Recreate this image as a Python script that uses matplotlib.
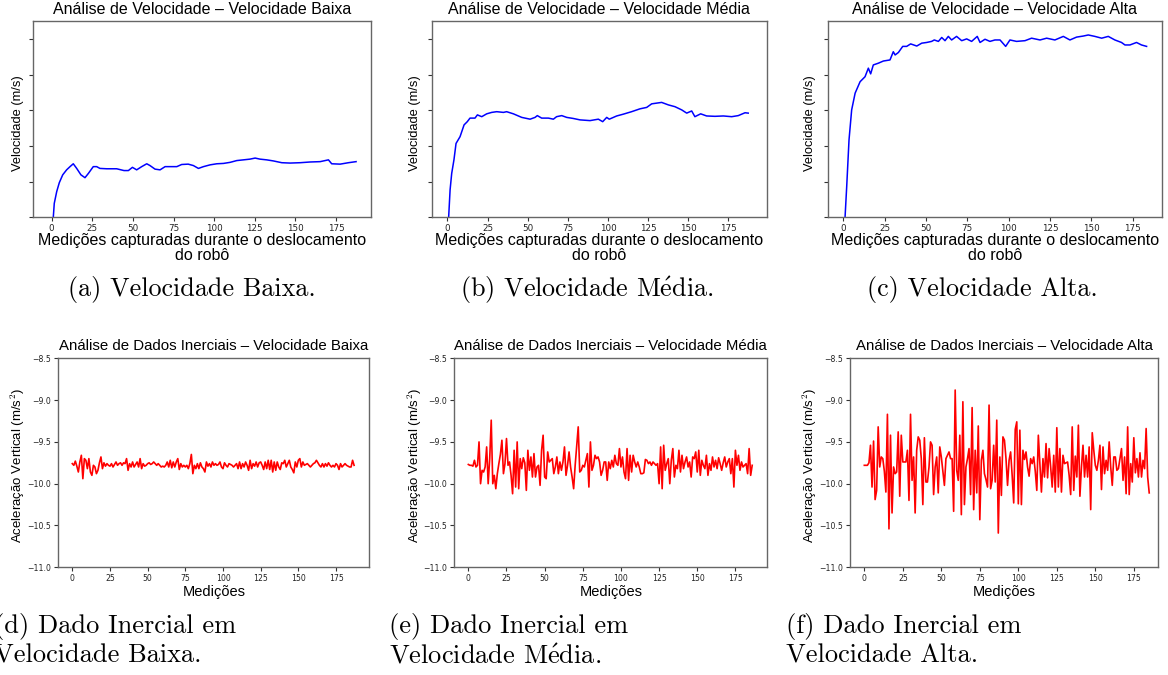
import matplotlib
matplotlib.use("Agg")
import matplotlib.pyplot as plt

plt.rcParams['mathtext.fontset'] = 'cm'
plt.rcParams['axes.unicode_minus'] = True

# --- velocity series (top row) ---
vel_low_x = [1, 1.6, 3.1, 4.7, 6.8, 9.2, 11.3, 13.3, 15.4, 18, 20.5, 22.6, 25.6, 27.7, 29.7,
             33.9, 40, 44.5, 47.2, 49.7, 52.3, 55.4, 58.5, 60.5, 63.6, 66.7, 69.8, 72.8, 77,
             80, 84, 87.2, 90.3, 93.4, 97.5, 101.6, 105.7, 109.8, 113.9, 118, 122, 125.2,
             128.2, 132.3, 136.4, 141.6, 146.7, 152.9, 159, 165.2, 170.3, 172.3, 177.5, 182.6, 187.3]
vel_low_y = [0, 0.039, 0.072, 0.097, 0.119, 0.133, 0.142, 0.150, 0.137, 0.119, 0.111, 0.123,
             0.142, 0.142, 0.137, 0.136, 0.136, 0.131, 0.131, 0.140, 0.133, 0.142, 0.150, 0.145,
             0.135, 0.133, 0.142, 0.142, 0.142, 0.148, 0.149, 0.145, 0.137, 0.142, 0.147, 0.150,
             0.151, 0.154, 0.159, 0.161, 0.163, 0.166, 0.163, 0.161, 0.158, 0.153, 0.152, 0.153,
             0.155, 0.156, 0.161, 0.150, 0.149, 0.153, 0.156]

vel_mid_x = [0.8, 1.7, 2.7, 4.1, 5.4, 7.9, 10.4, 12.4, 14.1, 17.2, 18.7, 21.4, 24.5, 27.6, 30.7,
             34.9, 36.9, 41.1, 46.3, 51.5, 54.6, 56, 58.7, 62.9, 66, 68, 71.2, 74.3, 78.4, 82.6,
             88.8, 94, 96.7, 99.2, 100.8, 105.4, 109.5, 114.7, 119.9, 124.1, 127.2, 130.3,
             133.4, 137.6, 141.7, 145.9, 149, 152.1, 154.1, 157.7, 161.4, 166.6, 171.8, 177,
             181.1, 185.3, 187.3]
vel_mid_y = [0, 0.077, 0.123, 0.161, 0.207, 0.226, 0.259, 0.268, 0.278, 0.278, 0.287, 0.282,
             0.290, 0.294, 0.296, 0.294, 0.296, 0.290, 0.280, 0.275, 0.280, 0.285, 0.278, 0.278,
             0.275, 0.282, 0.285, 0.280, 0.277, 0.273, 0.271, 0.275, 0.268, 0.280, 0.275, 0.284,
             0.289, 0.296, 0.304, 0.308, 0.318, 0.320, 0.322, 0.315, 0.310, 0.301, 0.292, 0.298,
             0.282, 0.290, 0.284, 0.283, 0.284, 0.282, 0.285, 0.293, 0.292]

vel_high_x = [1, 2, 3.4, 5, 7.1, 10.1, 13.1, 15.1, 16.5, 18.1, 21.2, 24.2, 28.2, 30.2, 31.3,
              33.3, 35.9, 38.3, 40.7, 44.4, 47.4, 50.4, 53.4, 55, 57.5, 59.5, 61.5, 63.5, 65.5,
              68.5, 71.6, 74.6, 77.6, 81, 82.7, 85.7, 88.7, 91.7, 94.8, 98.2, 100.8, 104.8,
              109.9, 113.9, 119, 123, 128, 133.1, 137.1, 141.1, 145.2, 148.2, 152.2, 156.3,
              160.3, 164.3, 168.3, 170.4, 173.4, 177.4, 180.4, 183.5]
vel_high_y = [0, 0.086, 0.217, 0.301, 0.348, 0.380, 0.394, 0.418, 0.402, 0.427, 0.432, 0.438,
              0.441, 0.464, 0.455, 0.462, 0.479, 0.479, 0.486, 0.480, 0.488, 0.490, 0.493, 0.497,
              0.493, 0.504, 0.495, 0.507, 0.497, 0.507, 0.495, 0.500, 0.493, 0.507, 0.490, 0.499,
              0.493, 0.497, 0.497, 0.479, 0.497, 0.493, 0.495, 0.502, 0.497, 0.502, 0.497, 0.507,
              0.497, 0.505, 0.508, 0.511, 0.507, 0.502, 0.507, 0.497, 0.490, 0.483, 0.483, 0.490,
              0.483, 0.479]

# --- vertical acceleration series (bottom row) ---
acc_low = [-9.76, -9.78, -9.73, -9.79, -9.86, -9.74, -9.66, -9.94, -9.70, -9.72, -9.82, -9.70,
           -9.86, -9.90, -9.78, -9.80, -9.88, -9.84, -9.75, -9.68, -9.82, -9.75, -9.79, -9.76,
           -9.78, -9.79, -9.76, -9.80, -9.77, -9.74, -9.78, -9.76, -9.75, -9.78, -9.75, -9.76,
           -9.70, -9.84, -9.76, -9.80, -9.74, -9.80, -9.77, -9.74, -9.80, -9.70, -9.82, -9.76,
           -9.79, -9.78, -9.76, -9.75, -9.77, -9.76, -9.74, -9.76, -9.78, -9.76, -9.78, -9.80,
           -9.79, -9.80, -9.78, -9.74, -9.80, -9.72, -9.81, -9.74, -9.80, -9.74, -9.70, -9.83,
           -9.76, -9.80, -9.78, -9.80, -9.78, -9.82, -9.76, -9.65, -9.88, -9.78, -9.82, -9.76,
           -9.82, -9.75, -9.80, -9.82, -9.86, -9.74, -9.79, -9.76, -9.80, -9.74, -9.78, -9.76,
           -9.78, -9.77, -9.74, -9.80, -9.82, -9.75, -9.78, -9.80, -9.76, -9.77, -9.78, -9.80,
           -9.78, -9.76, -9.82, -9.74, -9.82, -9.76, -9.80, -9.74, -9.78, -9.84, -9.72, -9.82,
           -9.76, -9.79, -9.74, -9.80, -9.75, -9.74, -9.78, -9.83, -9.74, -9.82, -9.72, -9.83,
           -9.72, -9.86, -9.74, -9.84, -9.74, -9.80, -9.83, -9.75, -9.76, -9.72, -9.80, -9.76,
           -9.72, -9.80, -9.83, -9.87, -9.74, -9.80, -9.72, -9.70, -9.80, -9.74, -9.78, -9.77,
           -9.76, -9.78, -9.80, -9.78, -9.76, -9.75, -9.72, -9.75, -9.78, -9.80, -9.76, -9.80,
           -9.76, -9.79, -9.75, -9.78, -9.80, -9.78, -9.80, -9.76, -9.78, -9.83, -9.76, -9.80,
           -9.78, -9.76, -9.78, -9.79, -9.80, -9.80, -9.72, -9.78]

acc_mid = [-9.77, -9.78, -9.78, -9.79, -9.72, -9.80, -9.78, -9.50, -10.00, -9.84, -9.86, -9.80,
           -9.56, -10.00, -9.70, -9.24, -10.00, -9.90, -10.06, -9.88, -9.76, -9.65, -9.48, -9.88,
           -9.76, -9.46, -9.78, -9.74, -9.90, -10.12, -9.60, -10.04, -9.50, -10.06, -9.70, -9.82,
           -9.69, -9.75, -10.08, -9.60, -9.84, -9.68, -9.92, -9.64, -9.92, -9.80, -9.78, -10.02,
           -9.60, -9.42, -9.92, -9.94, -9.62, -9.74, -9.72, -9.70, -9.88, -9.80, -9.68, -9.88,
           -9.74, -9.84, -9.74, -9.56, -9.90, -9.78, -9.62, -9.80, -9.92, -10.06, -9.78, -9.55,
           -9.32, -9.86, -9.84, -9.78, -9.80, -9.72, -9.64, -10.04, -9.50, -9.84, -9.78, -9.66,
           -9.70, -9.68, -9.74, -9.90, -9.84, -9.74, -9.74, -9.96, -9.74, -9.82, -9.72, -9.80,
           -9.66, -9.76, -9.78, -9.58, -9.80, -9.68, -9.86, -9.94, -9.58, -9.96, -9.66, -9.86,
           -9.66, -9.74, -9.80, -9.74, -9.80, -9.88, -9.88, -9.87, -9.71, -9.72, -9.76, -9.74,
           -9.78, -9.74, -9.76, -9.78, -9.76, -10.00, -9.56, -10.06, -9.54, -9.84, -9.76, -9.70,
           -10.00, -9.72, -9.58, -9.92, -9.78, -9.82, -9.60, -9.86, -9.66, -9.82, -9.74, -9.68,
           -9.80, -9.74, -9.92, -9.68, -9.70, -9.62, -9.86, -9.60, -9.90, -9.72, -9.78, -9.82,
           -9.66, -9.90, -9.76, -9.84, -9.68, -9.80, -9.72, -9.82, -9.69, -9.76, -9.84, -9.75,
           -9.68, -9.80, -9.74, -9.70, -9.88, -9.70, -10.04, -9.60, -9.78, -9.66, -9.84, -9.74,
           -9.80, -9.78, -9.76, -9.88, -9.58, -9.90, -9.78]

acc_high = [-9.78, -9.78, -9.78, -9.75, -9.54, -10.04, -9.49, -10.19, -10.08, -9.32, -9.80, -9.68,
            -9.70, -9.85, -10.10, -9.17, -10.54, -9.42, -10.35, -9.80, -9.88, -9.86, -9.38, -10.15,
            -9.42, -9.74, -9.74, -9.74, -9.60, -10.20, -9.17, -9.96, -9.68, -10.35, -9.60, -9.44,
            -9.48, -9.70, -10.25, -9.45, -9.98, -9.98, -9.80, -9.50, -9.54, -10.13, -9.80, -9.68,
            -10.11, -9.56, -9.68, -9.85, -10.02, -9.70, -9.66, -9.62, -9.70, -9.70, -10.33, -8.88,
            -9.84, -9.96, -9.42, -10.37, -9.02, -10.25, -9.80, -9.70, -9.58, -10.13, -9.09, -10.31,
            -9.60, -10.11, -9.31, -10.43, -9.72, -9.60, -9.88, -9.95, -10.04, -9.06, -10.06, -9.96,
            -9.54, -9.98, -9.24, -10.59, -9.68, -10.14, -9.44, -9.48, -9.70, -10.02, -9.72, -9.62,
            -9.90, -10.23, -9.35, -9.26, -10.24, -9.36, -10.25, -9.60, -9.71, -9.62, -9.80, -9.91,
            -9.70, -9.76, -9.68, -9.85, -10.08, -9.42, -9.75, -10.10, -9.70, -9.92, -9.52, -9.93,
            -9.58, -9.80, -10.04, -9.66, -10.10, -9.33, -10.04, -9.58, -10.10, -9.66, -9.76, -9.75,
            -9.74, -9.90, -10.13, -9.32, -10.08, -9.67, -9.92, -9.30, -10.15, -9.80, -9.54, -9.92,
            -9.66, -9.92, -9.56, -10.31, -9.39, -9.60, -9.78, -9.84, -9.72, -9.54, -10.07, -9.56,
            -9.88, -9.72, -9.84, -9.50, -9.80, -10.02, -9.68, -9.68, -9.84, -9.82, -9.70, -9.58,
            -9.96, -9.68, -10.12, -9.32, -10.13, -9.76, -9.98, -9.45, -9.87, -9.70, -9.92, -9.63,
            -9.92, -9.72, -9.82, -9.34, -9.92, -10.11]

speeds = ["Baixa", "Média", "Alta"]
top_captions = ["(a) Velocidade Baixa.", "(b) Velocidade M$\\acute{\\mathrm{e}}$dia.",
                "(c) Velocidade Alta."]
bottom_captions = [("(d) Dado Inercial em", "Velocidade Baixa."),
                   ("(e) Dado Inercial em", "Velocidade M$\\acute{\\mathrm{e}}$dia."),
                   ("(f) Dado Inercial em", "Velocidade Alta.")]
x_ticks = [0, 25, 50, 75, 100, 125, 150, 175]

W, H = 1168, 675
fig = plt.figure(figsize=(W / 100, H / 100), dpi=100)


def rect(l, t, r, b):
    return [l / W, 1 - b / H, (r - l) / W, (b - t) / H]


sans = ["Liberation Sans", "DejaVu Sans"]
spine_col = "#666666"


def style(ax, size):
    for s in ax.spines.values():
        s.set_color(spine_col)
        s.set_linewidth(1.0)
    ax.tick_params(labelsize=size, length=3, width=0.8, color="#333333", pad=2,
                   labelcolor="#222222")


top_boxes = [(33.3, 20.7, 370.7, 217.3), (431.7, 20.7, 766.7, 217.3), (827.7, 20.7, 1162.3, 217.3)]
top_xlim = [(-11.3, 196.3), (-9.75, 198.8), (-9.5, 193.0)]
top_data = [(vel_low_x, vel_low_y), (vel_mid_x, vel_mid_y), (vel_high_x, vel_high_y)]
ylab_x = [18, 415, 810]

for i in range(3):
    ax = fig.add_axes(rect(*top_boxes[i]))
    x, y = top_data[i]
    ax.plot(x, y, color="blue", lw=1.1)
    ax.set_xlim(*top_xlim[i])
    ax.set_ylim(0, 0.551)
    ax.set_xticks(x_ticks)
    ax.set_yticks([0, 0.1, 0.2, 0.3, 0.4, 0.5])
    ax.set_yticklabels([])
    style(ax, 6.3)
    l, t, r, b = top_boxes[i]
    cx = ((l + r) / 2) / W
    fig.text(cx, 1 - 10 / H, "Análise de Velocidade – Velocidade " + speeds[i],
             ha="center", va="center", fontsize=11.5, family=sans)
    fig.text(cx, 1 - 240 / H, "Medições capturadas durante o deslocamento",
             ha="center", va="center", fontsize=11.5, family=sans)
    fig.text(cx, 1 - 256 / H, "do robô",
             ha="center", va="center", fontsize=11.5, family=sans)
    fig.text(ylab_x[i] / W, 1 - 123 / H, "Velocidade (m/s)", rotation=90,
             ha="center", va="center", fontsize=9.3, family=sans)

cap_x = [192, 587, 982]
for i in range(3):
    fig.text(cap_x[i] / W, 1 - 290 / H, top_captions[i], ha="center", va="center",
             fontsize=18.8, family="cmr10")

bot_boxes = [(58.3, 358.3, 369.3, 567.3), (454.3, 358.3, 767.3, 567.3), (850.0, 358.3, 1158.3, 567.3)]
bot_xlim = [(-9.3, 197.1), (-9.2, 195.9), (-9.3, 190.9)]
bot_data = [acc_low, acc_mid, acc_high]

for i in range(3):
    ax = fig.add_axes(rect(*bot_boxes[i]))
    y = bot_data[i]
    ax.plot(range(len(y)), y, color="red", lw=1.2)
    ax.set_xlim(*bot_xlim[i])
    ax.set_ylim(-11.0, -8.5)
    ax.set_xticks(x_ticks)
    ax.set_yticks([-11.0, -10.5, -10.0, -9.5, -9.0, -8.5])
    style(ax, 5.6)
    l, t, r, b = bot_boxes[i]
    cx = ((l + r) / 2) / W
    fig.text(cx, 1 - 346 / H, "Análise de Dados Inerciais – Velocidade " + speeds[i],
             ha="center", va="center", fontsize=10.8, family=sans)
    fig.text(cx, 1 - 592 / H, "Medições", ha="center", va="center",
             fontsize=10.5, family=sans)
    fig.text(ylab_x[i] / W, 1 - 465 / H, "Aceleração Vertical (m/s$^2$)", rotation=90,
             ha="center", va="center", fontsize=9.5, family=sans)

cap_left = [-6, 389, 786]
for i in range(3):
    fig.text(cap_left[i] / W, 1 - 627 / H, bottom_captions[i][0], ha="left", va="center",
             fontsize=19, family="cmr10")
    fig.text(cap_left[i] / W, 1 - 656 / H, bottom_captions[i][1], ha="left", va="center",
             fontsize=19, family="cmr10")

fig.savefig("out.png", dpi=100)
